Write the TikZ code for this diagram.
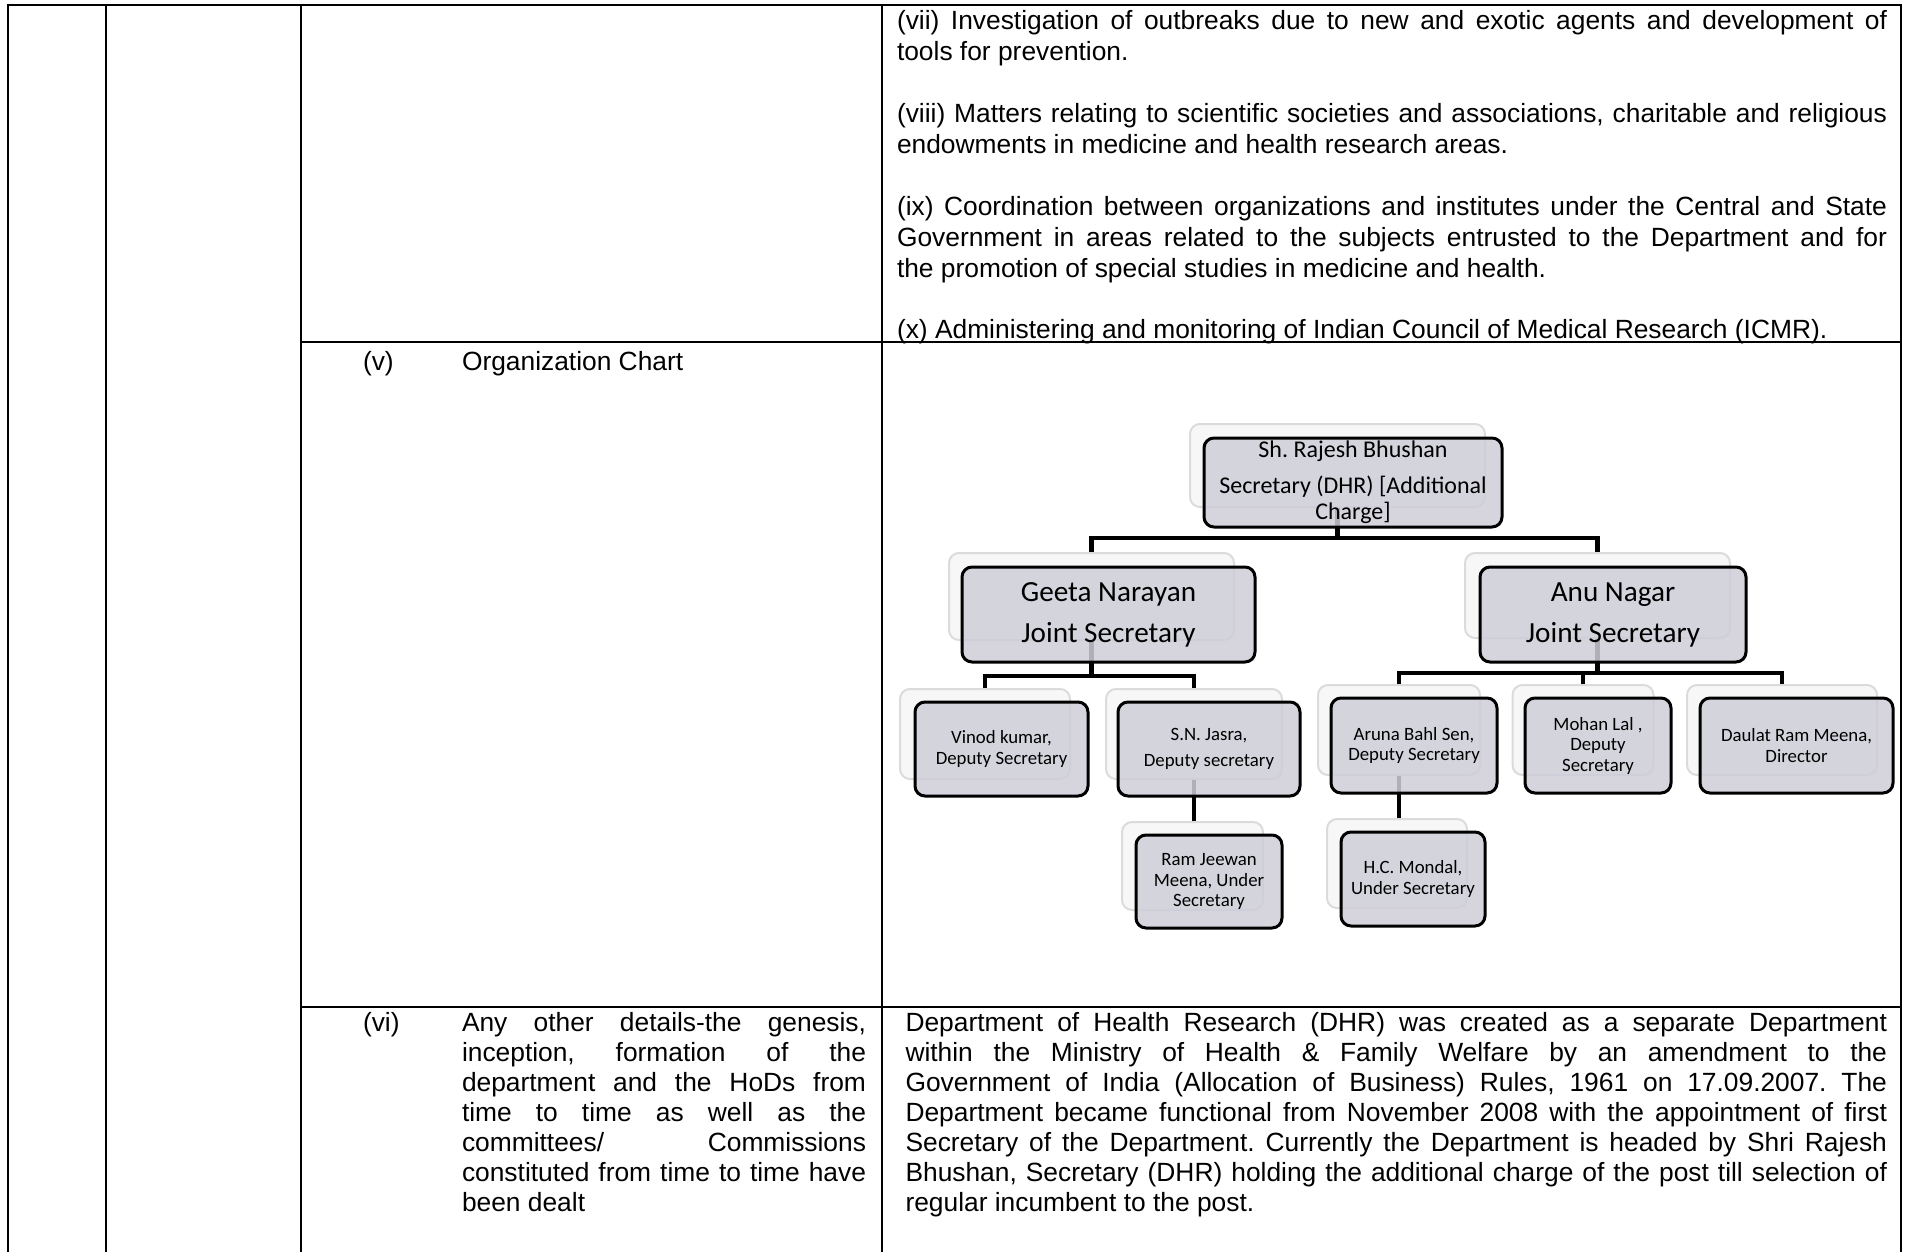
\documentclass[tikz,border=0pt]{standalone}
\usepackage{fontspec}
\setmainfont{Liberation Sans}
\newfontfamily\chartfont{Carlito}
\definecolor{boxfill}{RGB}{207,206,217}
\newcommand\jline[1]{\makebox[\linewidth][s]{#1}\par}
\newcommand\bodyfont[1]{\fontsize{13.18pt}{#1}\selectfont\frenchspacing}
\begin{document}
\frenchspacing
\begin{tikzpicture}[x=0.5pt,y=-0.5pt,
  tab/.style={line width=1.15pt, line cap=rect},
  txt/.style={anchor=base west, inner sep=0pt, outer sep=0pt, font=\bodyfont{15pt}},
  sz/.style 2 args={minimum width=#1*0.5pt, minimum height=#2*0.5pt},
  shadowbox/.style={draw=black!14, line width=1pt, rounded corners=5pt, fill=black!3, inner sep=0pt},
  orgbox/.style={draw=black, line width=1.5pt, rounded corners=5pt, fill=boxfill, fill opacity=0.85, text opacity=1, inner sep=0pt, align=center},
  big/.style={font=\chartfont\frenchspacing\fontsize{14.6pt}{20.5pt}\selectfont},
  mid/.style={font=\chartfont\frenchspacing\fontsize{12pt}{13pt}\selectfont},
  small/.style={font=\chartfont\frenchspacing\fontsize{9.4pt}{10.25pt}\selectfont},
  conn/.style={line width=2.4pt, draw=black}]
\useasboundingbox (0,0) rectangle (1905,1252);
\fill[white] (0,0) rectangle (1905,1252);
% table rules
\draw[tab] (8,5) -- (1901,5);
\draw[tab] (8,5) -- (8,1252);
\draw[tab] (106,5) -- (106,1252);
\draw[tab] (301,5) -- (301,1252);
\draw[tab] (882,5) -- (882,1252);
\draw[tab] (1901,5) -- (1901,1252);
\draw[tab] (301,342) -- (1901,342);
\draw[tab] (301,1007) -- (1901,1007);
% top right cell
\node[txt] (p7) at (897,30) {\parbox[t]{495pt}{\bodyfont{15.45pt}%
\jline{(vii) Investigation of outbreaks due to new and exotic agents and development of}
tools for prevention.\par\vspace{15.45pt}
\jline{(viii) Matters relating to scientific societies and associations, charitable and religious}
endowments in medicine and health research areas.\par\vspace{15.45pt}
\jline{(ix) Coordination between organizations and institutes under the Central and State}
\jline{Government in areas related to the subjects entrusted to the Department and for}
the promotion of special studies in medicine and health.\par\vspace{15.45pt}
(x) Administering and monitoring of Indian Council of Medical Research (ICMR).}};
% row (v)
\node[txt] (v) at (363,370) {(v)};
\node[txt] (vlabel) at (462,370) {Organization Chart};
% row (vi)
\node[txt] (vi) at (363,1031) {(vi)};
\node[txt] (vitext) at (462,1031) {\parbox[t]{202pt}{\bodyfont{15pt}%
\jline{Any other details-the genesis,}
\jline{inception, formation of the}
\jline{department and the HoDs from}
\jline{time to time as well as the}
\jline{committees/ Commissions}
\jline{constituted from time to time have}
been dealt}};
\node[txt] (dhr) at (905.5,1031) {\parbox[t]{490.75pt}{\bodyfont{15pt}%
\jline{Department of Health Research (DHR) was created as a separate Department}
\jline{within the Ministry of Health \& Family Welfare by an amendment to the}
\jline{Government of India (Allocation of Business) Rules, 1961 on 17.09.2007. The}
\jline{Department became functional from November 2008 with the appointment of first}
\jline{Secretary of the Department. Currently the Department is headed by Shri Rajesh}
\jline{Bhushan, Secretary (DHR) holding the additional charge of the post till selection of}
regular incumbent to the post.}};
% org chart: shadows
\node[shadowbox, sz={295}{83}] (tops) at (1337.5,465.5) {};
\node[shadowbox, sz={285}{87}] (geetas) at (1091.5,596.5) {};
\node[shadowbox, sz={265}{85}] (anus) at (1597.5,595.5) {};
\node[shadowbox, sz={170}{90}] (vinods) at (985,734) {};
\node[shadowbox, sz={176}{90}] (jasras) at (1194,734) {};
\node[shadowbox, sz={162}{90}] (arunas) at (1399,730) {};
\node[shadowbox, sz={141}{90}] (mohans) at (1583,730) {};
\node[shadowbox, sz={190}{90}] (daulats) at (1782,730) {};
\node[shadowbox, sz={141}{88}] (rams) at (1192.5,866) {};
\node[shadowbox, sz={140}{89}] (hcs) at (1397,863.5) {};
% connectors
\coordinate (j1) at (1337.5,538);
\coordinate (j2) at (1091.5,676);
\coordinate (j3) at (1597.5,673);
\draw[conn] (tops.south) -- (j1);
\draw[conn] (geetas.north) |- (j1) -| (anus.north);
\draw[conn] (geetas.south) -- (j2);
\draw[conn] (vinods.north) |- (j2) -| (jasras.north);
\draw[conn] (anus.south) -- (j3);
\draw[conn] (arunas.north) |- (j3) -| (daulats.north);
\draw[conn] (mohans.north) -- (mohans.north |- j3);
\draw[conn] (jasras.south) -- (jasras.south |- rams.north);
\draw[conn] (arunas.south) -- (arunas.south |- hcs.north);
% org chart: boxes
\node[orgbox, mid, sz={298}{89}] (top) at (1353,482.5) {Sh. Rajesh Bhushan\\[5pt]Secretary (DHR) [Additional\\Charge]};
\node[orgbox, big, sz={293}{95}] (geeta) at (1108.5,614.5) {Geeta Narayan\\Joint Secretary};
\node[orgbox, big, sz={266}{95}] (anu) at (1613,614.5) {Anu Nagar\\Joint Secretary};
\node[orgbox, small, sz={173}{94}] (vinod) at (1001.5,749) {Vinod kumar,\\Deputy Secretary};
\node[orgbox, small, sz={182}{94}] (jasra) at (1209,749) {S.N. Jasra,\\[2.75pt]Deputy secretary};
\node[orgbox, small, sz={166}{95}] (aruna) at (1414,745.5) {Aruna Bahl Sen,\\Deputy Secretary};
\node[orgbox, small, sz={146}{95}] (mohan) at (1598,745.5) {Mohan Lal ,\\Deputy\\Secretary};
\node[orgbox, small, sz={193}{95}] (daulat) at (1796.5,745.5) {Daulat Ram Meena,\\Director};
\node[orgbox, small, sz={146}{93}] (ram) at (1209,881.5) {Ram Jeewan\\Meena, Under\\Secretary};
\node[orgbox, small, sz={144}{94}] (hc) at (1413,879) {H.C. Mondal,\\Under Secretary};
\end{tikzpicture}
\end{document}
